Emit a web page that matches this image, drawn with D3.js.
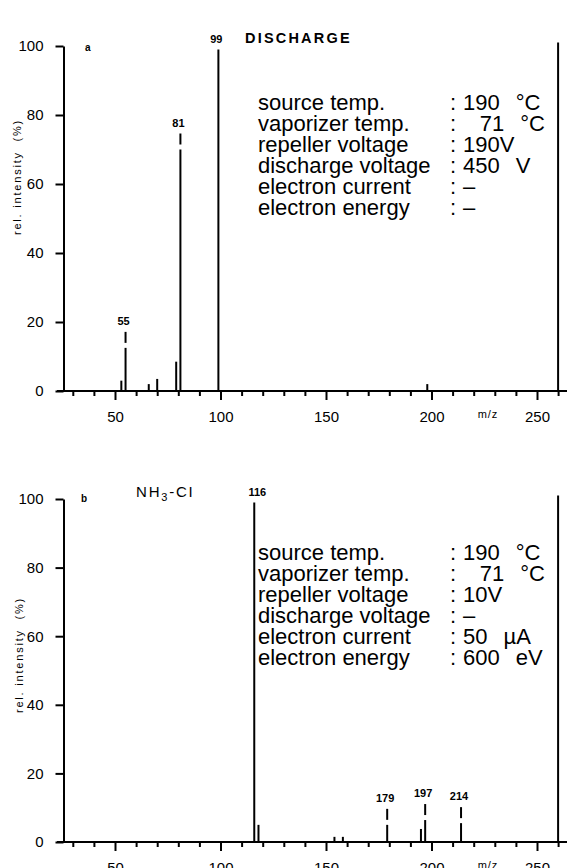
<!DOCTYPE html>
<html>
<head>
<meta charset="utf-8">
<script src="https://cdn.jsdelivr.net/npm/d3@7/dist/d3.min.js"></script>
<style>
  html, body { margin: 0; padding: 0; background: #fff; }
  svg { display: block; font-family: "Liberation Sans", Arial, Helvetica, sans-serif; }
  .axis path, .axis line { stroke: #000; stroke-width: 2; }
  .axis text { font-size: 15px; fill: #000; }
</style>
</head>
<body>
<div id="chart"></div>
<script>
// tick values
const mzMajor = [50, 100, 150, 200, 250];
const mzMinor = [30, 40, 60, 70, 80, 90, 110, 120, 130, 140, 160, 170, 180, 190, 210, 220, 230, 240, 260];
const yTicks = [0, 20, 40, 60, 80, 100];

// spectrum a: discharge
const dischargeMz = [53, 55, 66, 70, 79, 81, 99, 198];
const dischargeInt = [3, 12.5, 2, 3.5, 8.5, 70, 99, 2];
const dischargeLabels = [55, 81, 99];

// spectrum b: NH3-CI
const nh3Mz = [116, 118, 154, 158, 179, 195, 197, 214];
const nh3Int = [99, 5, 1.5, 1.5, 5, 3.8, 6.4, 5.5];
const nh3Labels = [116, 179, 197, 214];

// right hand end marker of the scan
const scanEnd = 260;

// instrument conditions
const paramNames = ["source temp.", "vaporizer temp.", "repeller voltage", "discharge voltage", "electron current", "electron energy"];
const dischargeValues = ["190 °C", "71 °C", "190V", "450 V", "–", "–"];
const nh3Values = ["190 °C", "71 °C", "10V", "–", "50 µA", "600 eV"];

const W = 567, H = 868;

const svg = d3.select("#chart").append("svg")
  .attr("width", W)
  .attr("height", H)
  .attr("viewBox", `0 0 ${W} ${H}`);

const x = d3.scaleLinear().domain([50, 250]).range([115, 537]);

const panels = [
  {
    id: "a", mz: dischargeMz, inten: dischargeInt, labels: dischargeLabels,
    yRange: [391, 46], title: "DISCHARGE", titleX: 245, titleY: 43,
    values: dischargeValues, infoY: 110, yLabelMid: 177, yLabelX: 21, tag: [85, 51]
  },
  {
    id: "b", mz: nh3Mz, inten: nh3Int, labels: nh3Labels,
    yRange: [842, 499], title: null, titleX: 136, titleY: 497,
    values: nh3Values, infoY: 560, yLabelMid: 655, yLabelX: 23, tag: [81, 502]
  }
];

panels.forEach((p) => {
  const y = d3.scaleLinear().domain([0, 100]).range(p.yRange);
  const g = svg.append("g").attr("class", "panel-" + p.id);
  const y0 = y(0);

  /* ---------- Axes ---------- */
  g.append("line")
    .attr("x1", 57).attr("x2", W)
    .attr("y1", y0).attr("y2", y0)
    .attr("stroke", "#000").attr("stroke-width", 2);

  g.append("g")
    .attr("class", "axis")
    .attr("transform", `translate(0,${y0})`)
    .call(d3.axisBottom(x).tickValues(mzMinor).tickSize(5).tickSizeOuter(0).tickFormat(""))
    .call((a) => a.select(".domain").remove());

  g.append("g")
    .attr("class", "axis")
    .attr("transform", `translate(0,${y0})`)
    .call(d3.axisBottom(x).tickValues(mzMajor).tickSize(9).tickSizeOuter(0).tickPadding(11))
    .call((a) => a.select(".domain").remove());

  g.append("g")
    .attr("class", "axis")
    .attr("transform", "translate(63.5,0)")
    .call(d3.axisLeft(y).tickValues(yTicks).tickSize(8).tickSizeOuter(0).tickPadding(12));

  g.append("text")
    .attr("x", 488).attr("y", y0 + 27)
    .attr("text-anchor", "middle")
    .attr("font-size", "11px")
    .attr("letter-spacing", "1px")
    .text("m/z");

  g.append("text")
    .attr("transform", `translate(${p.yLabelX},${p.yLabelMid}) rotate(-90)`)
    .attr("text-anchor", "middle")
    .attr("font-size", "11px")
    .attr("letter-spacing", "1.8px")
    .attr("xml:space", "preserve")
    .text("rel. intensity  (%)");

  /* ---------- Peaks ---------- */
  const peaks = p.mz.map((m, i) => ({ mz: m, v: p.inten[i] }));

  g.selectAll(".peak")
    .data(peaks)
    .enter()
    .append("line")
    .attr("class", "peak")
    .attr("x1", (d) => x(d.mz)).attr("x2", (d) => x(d.mz))
    .attr("y1", y0).attr("y2", (d) => y(d.v))
    .attr("stroke", "#000")
    .attr("stroke-width", 2);

  // end of scan line
  g.append("line")
    .attr("x1", x(scanEnd)).attr("x2", x(scanEnd))
    .attr("y1", y0).attr("y2", y(101))
    .attr("stroke", "#000").attr("stroke-width", 2);

  /* ---------- Peak labels ---------- */
  const labelled = peaks.filter((d) => p.labels.includes(d.mz));
  labelled.forEach((d) => {
    const top = y(d.v);
    let textY = top - 6;
    if (d.v < 95) {
      g.append("line")
        .attr("x1", x(d.mz)).attr("x2", x(d.mz))
        .attr("y1", top - 5).attr("y2", top - 16)
        .attr("stroke", "#000").attr("stroke-width", 2);
      textY = top - 23;
    }
    g.append("text")
      .attr("x", x(d.mz) + (d.v >= 95 && p.id === "b" ? 3 : -2))
      .attr("y", textY)
      .attr("text-anchor", "middle")
      .attr("font-size", "11px")
      .attr("font-weight", "bold")
      .text(d.mz);
  });

  /* ---------- Titles ---------- */
  g.append("text")
    .attr("x", p.tag[0]).attr("y", p.tag[1])
    .attr("font-size", "10px")
    .attr("font-weight", "bold")
    .text(p.id);

  if (p.title) {
    g.append("text")
      .attr("x", p.titleX).attr("y", p.titleY)
      .attr("font-size", "14.5px")
      .attr("font-weight", "bold")
      .attr("letter-spacing", "2.2px")
      .text(p.title);
  } else {
    const t = g.append("text")
      .attr("x", p.titleX).attr("y", p.titleY)
      .attr("font-size", "15px")
      .attr("letter-spacing", "1.8px");
    t.append("tspan").text("NH");
    t.append("tspan").attr("font-size", "11px").attr("dy", 4).text("3");
    t.append("tspan").attr("dy", -4).text("-CI");
  }

  /* ---------- Conditions ---------- */
  const info = g.append("g").attr("font-size", "22px");
  paramNames.forEach((name, i) => {
    const ty = p.infoY + i * 21;
    info.append("text").attr("x", 258).attr("y", ty).text(name);
    info.append("text").attr("x", 450).attr("y", ty).text(":");
    if (p.values[i] === "71 °C") {
      info.append("text").attr("x", 545).attr("y", ty)
        .attr("text-anchor", "end").attr("word-spacing", "10px").text(p.values[i]);
    } else {
      info.append("text").attr("x", 463).attr("y", ty)
        .attr("word-spacing", "10px").text(p.values[i]);
    }
  });
});
</script>
</body>
</html>
